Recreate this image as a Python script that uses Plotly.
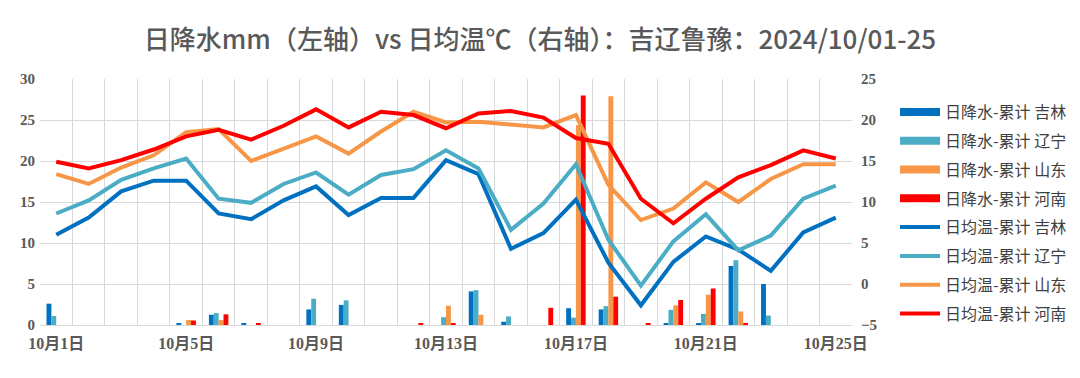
import plotly.graph_objects as go

# ---------------- data ----------------
days = ["10月1日", "10月2日", "10月3日", "10月4日", "10月5日", "10月6日", "10月7日",
        "10月8日", "10月9日", "10月10日", "10月11日", "10月12日", "10月13日",
        "10月14日", "10月15日", "10月16日", "10月17日", "10月18日", "10月19日",
        "10月20日", "10月21日", "10月22日", "10月23日", "10月24日", "10月25日"]
tick_labels = ["10月1日", "10月5日", "10月9日", "10月13日", "10月17日", "10月21日", "10月25日"]

# daily precipitation (mm, left axis)
precip_jilin = [2.6, 0, 0, 0, 0.15, 1.25, 0.2, 0, 1.9, 2.45, 0, 0, 0, 4.1, 0.4,
                0, 2.05, 1.9, 0, 0.2, 0.2, 7.2, 5.0, 0, 0]
precip_liaoning = [1.1, 0, 0, 0, 0, 1.45, 0, 0, 3.2, 3.0, 0, 0, 0.95, 4.25, 1.05,
                   0, 0.9, 2.3, 0, 1.85, 1.35, 7.9, 1.15, 0, 0]
precip_shandong = [0, 0, 0, 0, 0.6, 0.6, 0, 0, 0, 0, 0, 0, 2.35, 1.25, 0,
                   0, 24.4, 27.9, 0, 2.4, 3.7, 1.65, 0, 0, 0]
precip_henan = [0, 0, 0, 0, 0.55, 1.3, 0.2, 0, 0, 0, 0, 0.15, 0.15, 0, 0,
                2.1, 28.0, 3.45, 0.2, 3.05, 4.45, 0.2, 0, 0, 0]

# daily mean temperature (°C, right axis)
temp_jilin = [6.0, 8.1, 11.3, 12.6, 12.6, 8.6, 7.9, 10.2, 11.9, 8.4, 10.5, 10.5, 15.1,
              13.4, 4.3, 6.2, 10.3, 2.6, -2.6, 2.7, 5.8, 4.2, 1.6, 6.3, 8.1]
temp_liaoning = [8.6, 10.2, 12.7, 14.1, 15.3, 10.4, 9.9, 12.2, 13.6, 10.9, 13.3, 14.0, 16.3,
                 14.1, 6.6, 9.8, 14.6, 5.4, -0.2, 5.2, 8.5, 4.1, 5.9, 10.4, 12.0]
temp_shandong = [13.4, 12.2, 14.2, 15.7, 18.5, 18.9, 15.0, 16.5, 18.0, 15.9, 18.6, 21.0, 19.7,
                 19.8, 19.4, 19.1, 20.6, 12.1, 7.8, 9.2, 12.4, 10.0, 12.8, 14.6, 14.6]
temp_henan = [14.9, 14.1, 15.1, 16.4, 18.0, 18.8, 17.6, 19.3, 21.3, 19.1, 21.0, 20.6, 19.0,
              20.8, 21.1, 20.3, 17.8, 17.1, 10.4, 7.4, 10.4, 13.0, 14.5, 16.3, 15.3]

provinces = ["吉林", "辽宁", "山东", "河南"]
colors = ["#0070C0", "#4BACC6", "#F79646", "#FF0000"]
precip = [precip_jilin, precip_liaoning, precip_shandong, precip_henan]
temps = [temp_jilin, temp_liaoning, temp_shandong, temp_henan]

# ---------------- figure ----------------
xi = list(range(len(days)))
tickpos = [days.index(t) for t in tick_labels]

fig = go.Figure()

legend_font = dict(family="Noto Sans CJK SC", size=16, color="#404040")

# legend proxies for bar series (thick bar-like swatches)
for i, (p, c) in enumerate(zip(provinces, colors)):
    fig.add_trace(go.Scatter(x=[None], y=[None], mode="lines",
                             line=dict(color=c, width=8),
                             name="日降水-累计 " + p, legendgroup="b%d" % i,
                             showlegend=True, hoverinfo="skip"))

for i, (p, c, v) in enumerate(zip(provinces, colors, precip)):
    fig.add_trace(go.Bar(x=xi, y=v, name="日降水-累计 " + p, marker_color=c,
                         marker_line_width=0, showlegend=False, yaxis="y",
                         legendgroup="b%d" % i))

for i, (p, c, v) in enumerate(zip(provinces, colors, temps)):
    fig.add_trace(go.Scatter(x=xi, y=v, mode="lines", name="日均温-累计 " + p,
                             line=dict(color=c, width=4), yaxis="y2",
                             legendgroup="t%d" % i))

tickfont = dict(family="Liberation Serif, Noto Sans CJK SC", size=15,
                color="#595959", weight="bold")
xtickfont = dict(family="Liberation Serif, Noto Sans CJK SC", size=16,
                 color="#595959", weight="bold")

fig.update_layout(
    width=1080, height=378,
    margin=dict(l=32, r=236, t=71, b=61),
    paper_bgcolor="white", plot_bgcolor="white",
    barmode="group", bargap=0.4, bargroupgap=0,
    title=dict(text="日降水mm（左轴）vs 日均温℃（右轴）：吉辽鲁豫：2024/10/01-25",
               x=0.4926, xref="container", xanchor="center",
               y=0.915, yref="container", yanchor="middle",
               font=dict(family="Noto Sans CJK SC", size=26, color="#595959",
                         weight=500)),
    xaxis=dict(range=[-0.5, len(days) - 0.5], tickvals=tickpos, ticktext=tick_labels,
               showgrid=False, zeroline=False, showline=True, linecolor="#D9D9D9",
               linewidth=1.3, ticks="", tickfont=xtickfont, ticklabelstandoff=4,
               minor=dict(tick0=-0.5, dtick=1, showgrid=True, gridcolor="#D9D9D9",
                          gridwidth=1.3, ticks="")),
    yaxis=dict(range=[0, 30], dtick=5, showgrid=True, gridcolor="#D9D9D9", gridwidth=1.3,
               zeroline=False, ticks="", tickfont=tickfont, ticklabelstandoff=4),
    yaxis2=dict(range=[-5, 25], dtick=5, overlaying="y", side="right", showgrid=False,
                zeroline=False, ticks="", tickfont=tickfont, ticklabelstandoff=8),
    legend=dict(x=1.053, xanchor="left", y=0.935, yanchor="top", font=legend_font,
                itemwidth=40, tracegroupgap=5, bgcolor="rgba(0,0,0,0)",
                traceorder="grouped"),
    showlegend=True,
)

fig.write_html("out.html")
